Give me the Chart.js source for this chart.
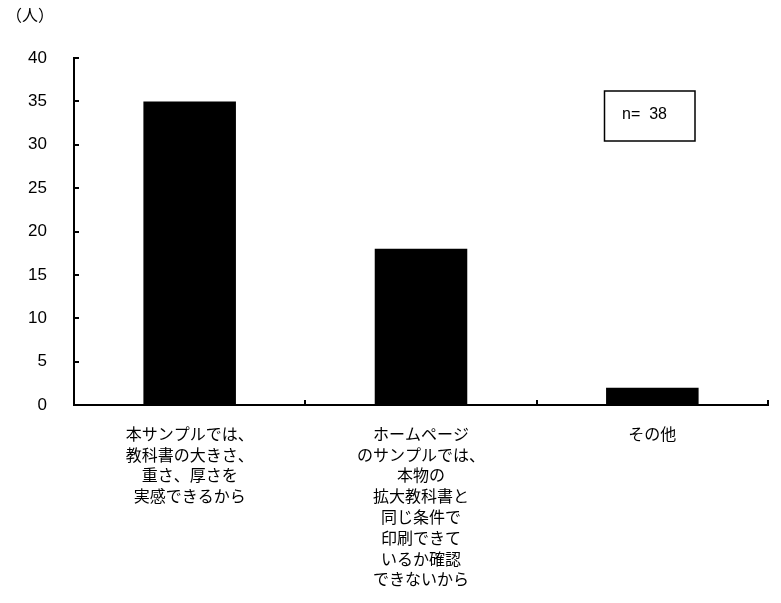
<!DOCTYPE html>
<html>
<head>
<meta charset="utf-8">
<script src="https://cdn.jsdelivr.net/npm/chart.js@4/dist/chart.umd.min.js"></script>
<style>
	html, body { margin: 0; padding: 0; background: #fff; }
	canvas { display: block; }
</style>
</head>
<body>
<canvas id="reasonChart" width="781" height="603"></canvas>
<script>
// data
var categories = [
	["本サンプルでは、", "教科書の大きさ、", "重さ、厚さを", "実感できるから"],
	["ホームページ", "のサンプルでは、", "本物の", "拡大教科書と", "同じ条件で", "印刷できて", "いるか確認", "できないから"],
	["その他"]
];
var counts = [35, 18, 2];
var yTicks = [0, 5, 10, 15, 20, 25, 30, 35, 40];
var unitLabel = "（人）";
var sampleLabel = "n=  38";

var FONT = "'Liberation Sans', 'Noto Sans CJK JP', sans-serif";

// Excel-style tick marks pointing into the plot area
var insideTicks = {
	id: 'insideTicks',
	afterDatasetsDraw: function(chart) {
		var c = chart.ctx;
		var x = chart.scales.x, y = chart.scales.y;
		c.save();
		c.strokeStyle = '#000';
		c.lineWidth = 2;
		c.beginPath();
		yTicks.forEach(function(v) {
			var py = Math.round(y.getPixelForValue(v));
			c.moveTo(y.right, py);
			c.lineTo(y.right + 5, py);
		});
		for (var i = 0; i <= categories.length; i++) {
			var px = Math.round(x.getPixelForValue(i - 0.5));
			c.moveTo(px, x.top);
			c.lineTo(px, x.top - 5);
		}
		c.stroke();
		c.restore();
	}
};

// unit text and the n= box
var extras = {
	id: 'extras',
	afterDraw: function(chart) {
		var c = chart.ctx;
		c.save();
		c.fillStyle = '#000';
		c.font = "16px " + FONT;
		c.textBaseline = 'middle';
		c.textAlign = 'left';
		c.fillText(unitLabel, 6, 17);

		c.strokeStyle = '#000';
		c.lineWidth = 1.5;
		c.strokeRect(604.5, 91, 90.5, 50);
		c.font = "16px " + FONT;
		c.fillText(sampleLabel, 622, 115);
		c.restore();
	}
};

var ctx = document.getElementById("reasonChart");
var reasonChart = new Chart(ctx, {
	type: 'bar',
	data: {
		labels: categories,
		datasets: [{
			data: counts,
			backgroundColor: '#000',
			borderWidth: 0,
			categoryPercentage: 1,
			barPercentage: 0.4
		}]
	},
	options: {
		responsive: false,
		animation: false,
		layout: {
			padding: { top: 58, right: 13, bottom: 0, left: 0 }
		},
		plugins: {
			legend: { display: false },
			title: { display: false },
			tooltip: { enabled: false }
		},
		scales: {
			x: {
				grid: { display: false, offset: true },
				border: { display: true, color: '#000', width: 2 },
				ticks: {
					color: '#000',
					font: { family: FONT, size: 16, lineHeight: 1.3 },
					padding: 12,
					maxRotation: 0,
					autoSkip: false
				},
				afterFit: function(scale) { scale.height = 198; }
			},
			y: {
				min: 0,
				max: 40,
				afterBuildTicks: function(scale) {
					scale.ticks = yTicks.map(function(v) { return { value: v }; });
				},
				grid: { display: false },
				border: { display: true, color: '#000', width: 2 },
				ticks: {
					color: '#000',
					font: { family: FONT, size: 17 },
					padding: 19
				},
				afterFit: function(scale) { scale.width = 74; }
			}
		}
	},
	plugins: [insideTicks, extras]
});
</script>
</body>
</html>
